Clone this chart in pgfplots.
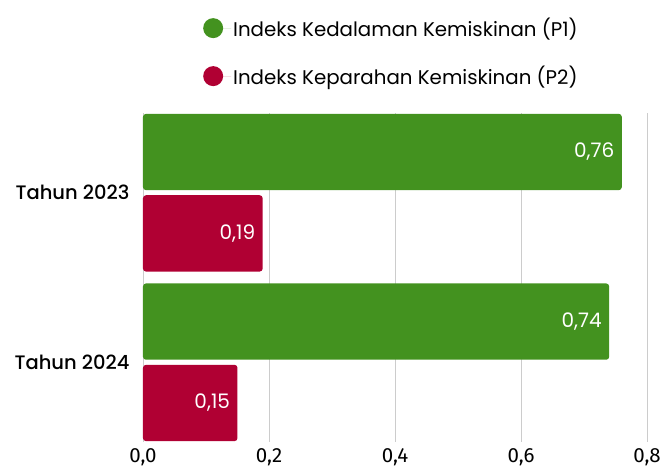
\documentclass[border=0pt]{standalone}
\usepackage{fontspec}
\setmainfont{Poppins}
\newfontfamily\pmed{Poppins Medium}
\newfontfamily\fira{Fira Sans}
\usepackage{pgfplots}
\pgfplotsset{compat=1.18}
\definecolor{pone}{HTML}{43921F}
\definecolor{ptwo}{HTML}{B00033}
\definecolor{gridc}{HTML}{CCCCCC}
\begin{document}
\begin{tikzpicture}[x=1pt,y=1pt]
\useasboundingbox (-143,-26) rectangle (521,442);
\begin{axis}[
  at={(0,0)}, anchor=south west,
  scale only axis, width=504pt, height=329pt,
  xbar, bar width=0.45,
  xmin=0, xmax=0.8,
  ymin=-0.47, ymax=1.47,
  xtick={0,0.2,0.4,0.6,0.8},
  ytick={0,1}, yticklabels={Tahun 2024, Tahun 2023},
  xmajorgrids, grid style={gridc, line width=0.8pt},
  axis line style={draw=none},
  major tick length=0pt,
  /pgf/number format/assume math mode=true,
  xticklabel style={font=\fira\fontsize{20.5}{22}\selectfont, yshift=-3pt, /pgf/number format/use comma, /pgf/number format/fixed, /pgf/number format/fixed zerofill, /pgf/number format/precision=1},
  yticklabel style={font=\pmed\fontsize{19.5}{22}\selectfont, xshift=-10pt},
  nodes near coords,
  nodes near coords style={/pgf/number format/use comma, /pgf/number format/fixed, /pgf/number format/fixed zerofill, /pgf/number format/precision=2},
  every node near coord/.append style={anchor=east, text=white, font=\fontsize{20}{22}\selectfont, xshift=-4pt},
  legend style={at={(0.119,1.295)}, anchor=north west, draw=none, fill=none,
    font=\fontsize{19.8}{22}\selectfont, row sep=24pt, inner sep=0pt},
  legend cell align=left,
]
\addplot[fill=pone, draw=none, rounded corners=3pt, bar shift=0.24,
  legend image code/.code={\fill[pone] (10pt,0pt) circle (10pt); \path (0pt,0pt) -- (28pt,0pt);}]
  coordinates {(0.74,0) (0.76,1)};
\addlegendentry{Indeks Kedalaman Kemiskinan (P1)}
\addplot[fill=ptwo, draw=none, rounded corners=3pt, bar shift=-0.24,
  legend image code/.code={\fill[ptwo] (10pt,0pt) circle (10pt); \path (0pt,0pt) -- (28pt,0pt);}]
  coordinates {(0.15,0) (0.19,1)};
\addlegendentry{Indeks Keparahan Kemiskinan (P2)}
\end{axis}
\end{tikzpicture}
\end{document}
